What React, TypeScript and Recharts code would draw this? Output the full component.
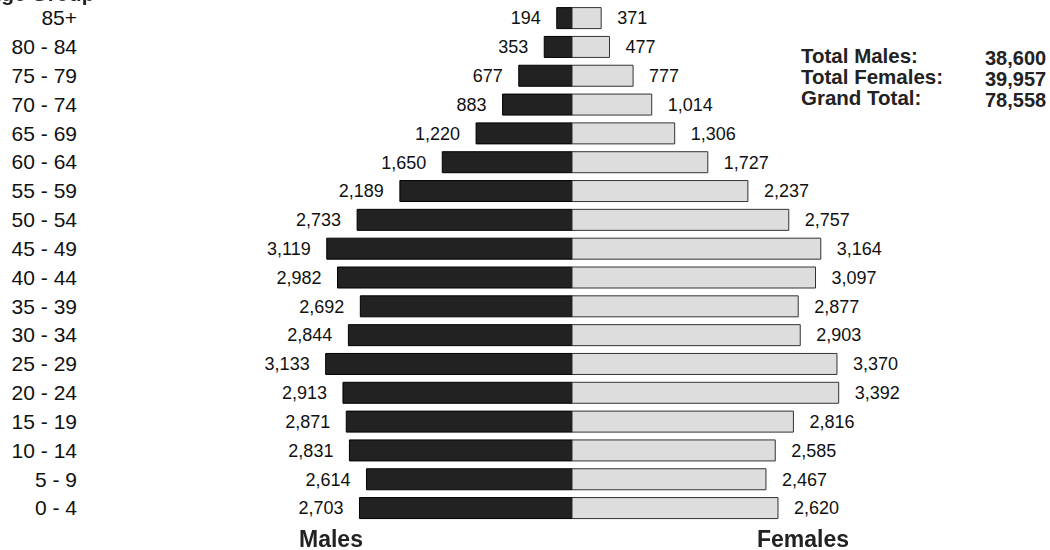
import { Bar, BarChart, LabelList, XAxis, YAxis } from "recharts";

const ageGroups = [
  "85+", "80 - 84", "75 - 79", "70 - 74", "65 - 69", "60 - 64", "55 - 59", "50 - 54", "45 - 49",
  "40 - 44", "35 - 39", "30 - 34", "25 - 29", "20 - 24", "15 - 19", "10 - 14", "5 - 9", "0 - 4",
];
const males = [194, 353, 677, 883, 1220, 1650, 2189, 2733, 3119, 2982, 2692, 2844, 3133, 2913, 2871, 2831, 2614, 2703];
const females = [371, 477, 777, 1014, 1306, 1727, 2237, 2757, 3164, 3097, 2877, 2903, 3370, 3392, 2816, 2585, 2467, 2620];
const totalLabels = ["Total Males:", "Total Females:", "Grand Total:"];
const totalValues = ["38,600", "39,957", "78,558"];

const data = ageGroups.map((g, i) => ({ group: g, males: -males[i], females: females[i] }));

const font = "'Liberation Sans', Arial, sans-serif";
const fmt = (v: number) => Math.abs(v).toLocaleString("en-US");

const ValueLabel = ({ side }: { side: "left" | "right" }) => (props: any) => {
  const { x, y, width, height, value } = props;
  const x0 = Math.min(x, x + width);
  const x1 = Math.max(x, x + width);
  const cy = y + height / 2;
  return (
    <text
      x={side === "left" ? x0 - 16 : x1 + 16}
      y={cy}
      dy="0.35em"
      textAnchor={side === "left" ? "end" : "start"}
      fontSize={18}
      fontFamily={font}
      fill="#111"
    >
      {fmt(value)}
    </text>
  );
};

const GroupTick = (props: any) => {
  const { y, payload } = props;
  return (
    <text x={77} y={y} dy="0.35em" textAnchor="end" fontSize={21} fontFamily={font} fill="#111">
      {payload.value}
    </text>
  );
};

export default function App() {
  return (
    <div style={{ position: "fixed", left: 0, top: 0, width: 1050, height: 550, background: "#fff", fontFamily: font }}>
      <BarChart
        width={1050}
        height={550}
        data={data}
        layout="vertical"
        stackOffset="sign"
        barSize={21}
        margin={{ top: 3.6, right: 163.5, left: 157.5, bottom: 27.6 }}
      >
        <XAxis type="number" domain={[-4000, 4000]} hide />
        <YAxis
          type="category"
          dataKey="group"
          width={100}
          axisLine={false}
          tickLine={false}
          interval={0}
          tick={<GroupTick />}
        />
        <Bar dataKey="males" stackId="a" fill="#222" stroke="#000" strokeWidth={1} isAnimationActive={false}>
          <LabelList dataKey="males" content={ValueLabel({ side: "left" })} />
        </Bar>
        <Bar dataKey="females" stackId="a" fill="#ddd" stroke="#333" strokeWidth={1} isAnimationActive={false}>
          <LabelList dataKey="females" content={ValueLabel({ side: "right" })} />
        </Bar>
      </BarChart>
      <div style={{ position: "absolute", left: -14, top: -18, fontSize: 21, fontWeight: "bold", color: "#222", whiteSpace: "nowrap" }}>
        Age Group
      </div>
      {totalLabels.map((t, i) => (
        <div key={t} style={{ position: "absolute", left: 801, top: 44 + i * 21, fontSize: 20.5, fontWeight: "bold", color: "#222", whiteSpace: "nowrap" }}>
          {t}
        </div>
      ))}
      {totalValues.map((t, i) => (
        <div key={t} style={{ position: "absolute", left: 985, top: 47 + i * 21, fontSize: 20, fontWeight: "bold", color: "#222", whiteSpace: "nowrap" }}>
          {t}
        </div>
      ))}
      <div style={{ position: "absolute", left: 299, top: 526, fontSize: 23, fontWeight: "bold", color: "#222" }}>Males</div>
      <div style={{ position: "absolute", left: 757, top: 526, fontSize: 23, fontWeight: "bold", color: "#222" }}>Females</div>
    </div>
  );
}
